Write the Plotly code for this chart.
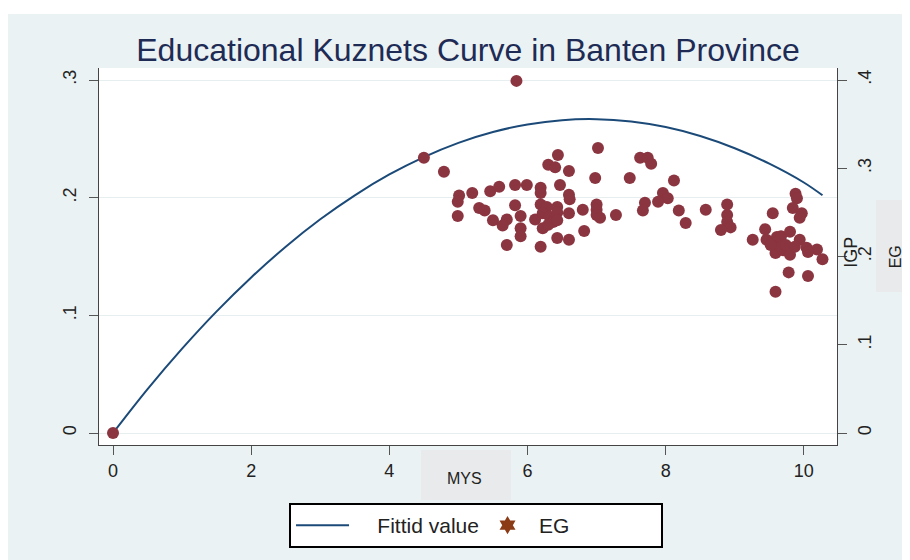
import plotly.graph_objects as go

# ---- data ----
MYS = [0.00, 5.84, 4.50, 4.79, 5.01, 4.99, 4.99, 5.20, 5.30, 5.38,
       5.46, 5.59, 5.82, 5.99, 6.19, 6.19, 5.82, 5.50, 5.70, 5.64,
       5.90, 5.90, 5.90, 5.70, 6.11, 6.19, 6.19, 6.28, 6.22, 6.32,
       6.37, 6.22, 6.30, 6.43, 6.43, 6.43, 6.43, 6.60, 6.44, 6.30,
       6.40, 6.60, 7.02, 6.98, 6.47, 6.60, 6.61, 6.60, 6.80, 6.82,
       7.00, 7.00, 7.00, 7.05, 7.28, 7.48, 7.63, 7.74, 7.79, 8.12,
       7.96, 8.03, 7.89, 7.70, 7.67, 8.19, 8.29, 8.58, 8.89, 8.89,
       8.89, 8.94, 8.80, 9.55, 9.88, 9.90, 9.84, 9.97, 9.94, 9.44,
       9.26, 9.46, 9.61, 9.67, 9.80, 9.94, 10.04, 10.19, 9.59, 9.70,
       9.80, 10.06, 10.27, 9.59, 9.68, 9.78, 10.06, 9.59, 9.52, 9.74,
       9.87]
EG = [0.000, 0.399, 0.312, 0.296, 0.269, 0.262, 0.246, 0.272, 0.255, 0.252,
      0.274, 0.279, 0.281, 0.281, 0.278, 0.272, 0.258, 0.241, 0.242, 0.235,
      0.246, 0.232, 0.223, 0.213, 0.242, 0.211, 0.259, 0.256, 0.249, 0.245,
      0.239, 0.232, 0.236, 0.256, 0.250, 0.241, 0.221, 0.219, 0.315, 0.304,
      0.301, 0.297, 0.323, 0.289, 0.281, 0.270, 0.265, 0.249, 0.253, 0.229,
      0.259, 0.253, 0.247, 0.244, 0.247, 0.289, 0.312, 0.312, 0.305, 0.286,
      0.272, 0.266, 0.262, 0.261, 0.252, 0.252, 0.238, 0.253, 0.259, 0.247,
      0.239, 0.233, 0.230, 0.249, 0.271, 0.266, 0.255, 0.249, 0.244, 0.231,
      0.219, 0.219, 0.222, 0.223, 0.228, 0.219, 0.210, 0.208, 0.204, 0.207,
      0.202, 0.205, 0.197, 0.215, 0.211, 0.182, 0.178, 0.160, 0.213, 0.213,
      0.211]

FIT_X = [0, 0.5, 1, 1.5, 2, 2.5, 3, 3.5, 4, 4.5, 5, 5.5, 6, 6.5, 7,
         7.5, 8, 8.5, 9, 9.5, 10, 10.27]
FIT_Y = [0.0, 0.0373, 0.0717, 0.1034, 0.1322, 0.1583, 0.1816, 0.2020,
         0.2197, 0.2345, 0.2466, 0.2558, 0.2622, 0.2659, 0.2667, 0.2647,
         0.2600, 0.2524, 0.2420, 0.2289, 0.2129, 0.2020]

X_TICKS = [0, 2, 4, 6, 8, 10]
Y_TICKS = [0, 0.1, 0.2, 0.3]
Y_LABELS = ["0", ".1", ".2", ".3"]
Y2_TICKS = [0, 0.1, 0.2, 0.3, 0.4]
Y2_LABELS = ["0", ".1", ".2", ".3", ".4"]

BG = "#EAF2F3"
FONT = "Liberation Sans"
NB = "\u00a0"

fig = go.Figure()
fig.add_trace(go.Scatter(x=FIT_X, y=FIT_Y, mode="lines", name=NB * 4 + "Fittid value",
                         line=dict(color="#1B4A78", width=2, shape="spline"),
                         yaxis="y"))
fig.add_trace(go.Scatter(x=MYS, y=EG, mode="markers", name="EG", showlegend=False,
                         marker=dict(color="#8B3540", size=12, line=dict(width=0)),
                         yaxis="y2"))
fig.add_trace(go.Scatter(x=[None], y=[None], mode="markers", name="EG",
                         marker=dict(color="#8B3B16", size=14, symbol="hexagram"),
                         yaxis="y2"))

axis_common = dict(showline=True, linecolor="#444444", linewidth=1,
                   ticks="outside", ticklen=9, tickcolor="#555555",
                   zeroline=False, tickfont=dict(family=FONT, size=18, color="#222222"))

fig.update_layout(
    width=902, height=552,
    margin=dict(l=91, r=73, t=60, b=115),
    paper_bgcolor=BG, plot_bgcolor="white",
    title=dict(text="Educational Kuznets Curve in Banten Province",
               font=dict(family=FONT, size=32, color="#1E2B55"),
               x=0.5, xref="paper", xanchor="center",
               y=1 - 42 / 552, yref="container", yanchor="middle"),
    xaxis=dict(range=[-0.203, 10.48], tickvals=X_TICKS, showgrid=False, **axis_common),
    yaxis=dict(range=[-0.0102, 0.3102], tickvals=Y_TICKS, ticktext=Y_LABELS,
               tickangle=-90, showgrid=True, gridcolor="#E6EEF0", gridwidth=1,
               ticklabelstandoff=6, **axis_common),
    yaxis2=dict(range=[-0.0136, 0.4136], tickvals=Y2_TICKS, ticktext=Y2_LABELS,
                tickangle=-90, overlaying="y", side="right", showgrid=False,
                ticklabelstandoff=2, **axis_common),
    showlegend=True,
    legend=dict(orientation="h", x=0.2575, y=-0.1538, xanchor="left", yanchor="top",
                bgcolor="white", bordercolor="black", borderwidth=2,
                font=dict(family=FONT, size=21, color="#222222"),
                itemwidth=53, entrywidth=117, traceorder="normal"),
    shapes=[
        dict(type="rect", xref="paper", yref="paper", x0=-0.14, x1=1.11,
             y0=1.1432, y1=1.19, fillcolor="white", line=dict(width=0), layer="below"),
        dict(type="rect", xref="paper", yref="paper", x0=0.4363, x1=0.5583,
             y0=-0.1459, y1=-0.0133, fillcolor="#E8EAEB", line=dict(width=0), layer="below"),
        dict(type="rect", xref="paper", yref="paper", x0=1.0528, x1=1.11,
             y0=0.4058, y1=0.6499, fillcolor="#E8EAEB", line=dict(width=0), layer="below"),
    ],
    annotations=[
        dict(text="MYS", xref="paper", yref="paper", x=0.4959, y=-0.1167,
             showarrow=False, font=dict(family=FONT, size=16, color="#222222")),
        dict(text="IGP", xref="paper", yref="paper", x=1.035, y=0.512,
             showarrow=False, textangle=-90, font=dict(family=FONT, size=18, color="#222222")),
        dict(text="EG", xref="paper", yref="paper", x=1.094, y=0.50,
             showarrow=False, textangle=-90, font=dict(family=FONT, size=16, color="#222222")),
    ],
)

fig.write_html("out.html")
